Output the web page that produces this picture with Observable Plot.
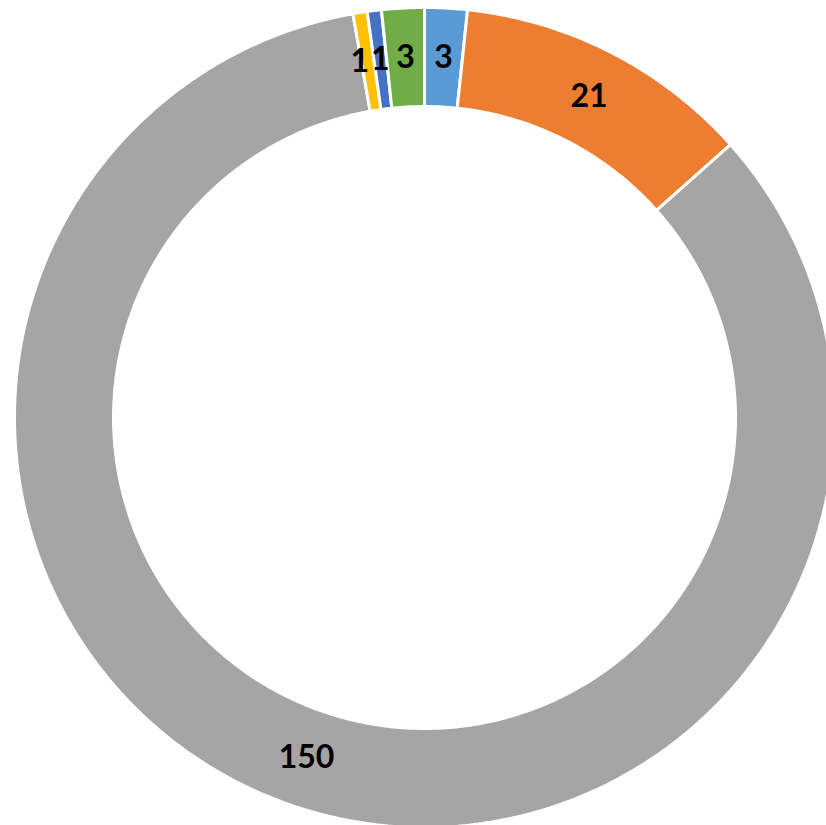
<!DOCTYPE html>
<html>
<head>
<meta charset="utf-8">
<script src="https://cdn.jsdelivr.net/npm/d3@7"></script>
<script src="https://cdn.jsdelivr.net/npm/@observablehq/plot@0.6"></script>
<style>
  html, body { margin: 0; padding: 0; background: #fff; }
</style>
</head>
<body>
<div id="chart"></div>
<script>
const categories = ["A", "B", "C", "D", "E", "F"];
const values = [3, 21, 150, 1, 1, 3];
const colors = ["#5B9BD5", "#ED7D31", "#A5A5A5", "#FFC000", "#4472C4", "#70AD47"];
const labels = ["3", "21", "150", "1", "1", "3"];

const W = 826, H = 825;
const cx = 424, cy = 417;
const outerR = 410, innerR = 311;

const table = categories.map((c, i) => ({category: c, value: values[i], color: colors[i], label: labels[i]}));
const arcs = d3.pie().value(d => d.value).sort(null)(table);

const pts = [];
arcs.forEach(a => {
  const n = Math.max(4, Math.ceil((a.endAngle - a.startAngle) / 0.01));
  for (let k = 0; k <= n; k++) {
    const t = a.startAngle + (a.endAngle - a.startAngle) * k / n;
    pts.push({category: a.data.category, color: a.data.color, x: outerR * Math.sin(t), y: outerR * Math.cos(t)});
  }
  for (let k = n; k >= 0; k--) {
    const t = a.startAngle + (a.endAngle - a.startAngle) * k / n;
    pts.push({category: a.data.category, color: a.data.color, x: innerR * Math.sin(t), y: innerR * Math.cos(t)});
  }
  const t0 = a.startAngle;
  pts.push({category: a.data.category, color: a.data.color, x: outerR * Math.sin(t0), y: outerR * Math.cos(t0)});
});

const midR = (outerR + innerR) / 2;
const labelPts = arcs.map((a, i) => {
  const t = (a.startAngle + a.endAngle) / 2;
  return {i, label: a.data.label, x: midR * Math.sin(t), y: midR * Math.cos(t)};
});

const textStyle = {x: "x", y: "y", text: "label", fill: "black", fontSize: 32, fontWeight: "bold", fontFamily: "Lato, 'Open Sans', sans-serif", lineAnchor: "middle", textAnchor: "middle"};

const chart = Plot.plot({
  width: W,
  height: H,
  margin: 0,
  x: {domain: [-cx, W - cx], axis: null},
  y: {domain: [-(H - cy), cy], axis: null},
  color: {type: "identity"},
  style: {background: "#fff", overflow: "hidden"},
  marks: [
    Plot.line(pts, {x: "x", y: "y", z: "category", fill: "color", stroke: "white", strokeWidth: 3, strokeLinejoin: "miter", curve: "linear"}),
    Plot.text(labelPts.filter(d => d.i !== 3), textStyle),
    Plot.text(labelPts.filter(d => d.i === 3), {...textStyle, dx: -8})
  ]
});
document.getElementById("chart").appendChild(chart);
</script>
</body>
</html>
